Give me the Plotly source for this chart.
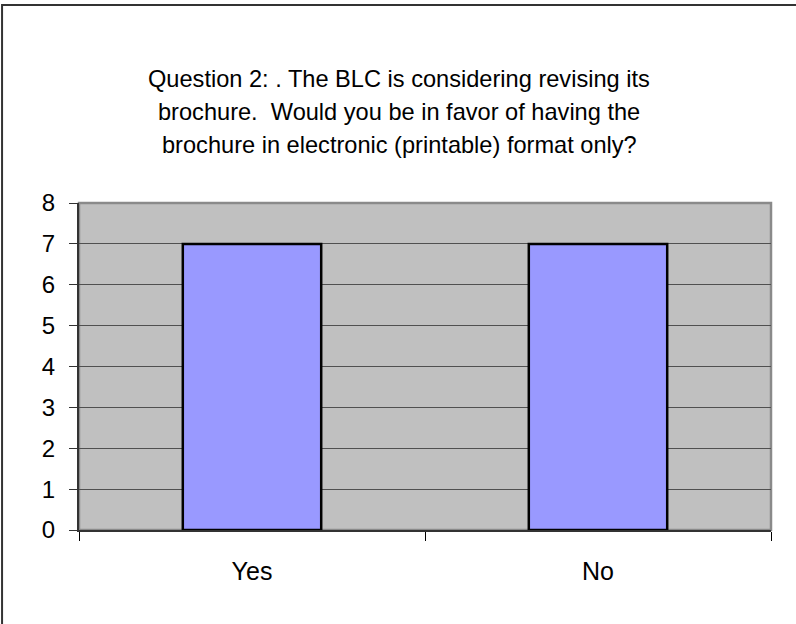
import plotly.graph_objects as go

categories = ["Yes", "No"]
counts = [7, 7]
y_ticks = [0, 1, 2, 3, 4, 5, 6, 7, 8]
title_lines = [
    "Question 2: . The BLC is considering revising its",
    "brochure.  Would you be in favor of having the",
    "brochure in electronic (printable) format only?",
]

W, H = 796, 624
L, R, T, B = 78.5, 25, 202.5, 93.5
pw, ph = W - L - R, H - T - B

def px_x(p):
    return (p - L) / pw

def px_y(p):
    return 1 - (p - T) / ph

fig = go.Figure()
fig.add_trace(go.Bar(
    x=categories, y=counts, width=0.4,
    marker=dict(color="#9999FF", line=dict(color="#000000", width=2.5)),
    hoverinfo="x+y",
))

shapes = [
    # outer chart frame (only top and left visible)
    dict(type="rect", xref="paper", yref="paper",
         x0=px_x(1.5), x1=px_x(W + 20), y0=px_y(H + 20), y1=px_y(4),
         line=dict(color="#333333", width=2), layer="below"),
    # plot-area border (top / right grey)
    dict(type="rect", xref="paper", yref="paper", x0=0, x1=1, y0=0, y1=1,
         line=dict(color="#8A8A8A", width=2.5), layer="below"),
]

annotations = []
for i, line in enumerate(title_lines):
    annotations.append(dict(
        text=line, xref="paper", yref="paper",
        x=px_x(399), y=px_y(78 + 33 * i), xanchor="center", yanchor="middle",
        showarrow=False,
        font=dict(family="Liberation Sans, Arial, sans-serif", size=23.6, color="#000000"),
    ))

fig.update_layout(
    width=W, height=H,
    margin=dict(l=L, r=R, t=T, b=B, pad=0),
    paper_bgcolor="#FFFFFF",
    plot_bgcolor="#C0C0C0",
    showlegend=False,
    shapes=shapes,
    annotations=annotations,
    bargap=0.6,
    font=dict(family="Liberation Sans, Arial, sans-serif", size=24, color="#000000"),
)
fig.update_xaxes(
    type="category", tickson="boundaries", ticks="outside", ticklen=9,
    tickcolor="#000000", tickwidth=1,
    showline=True, linecolor="#333333", linewidth=2,
    showgrid=False, ticklabelstandoff=18,
    tickfont=dict(size=25), range=[-0.5, 1.5],
)
fig.update_yaxes(
    range=[0, 8], tickvals=y_ticks, ticks="outside", ticklen=8,
    tickcolor="#333333", tickwidth=1,
    showline=True, linecolor="#333333", linewidth=2,
    showgrid=True, gridcolor="#505050", gridwidth=1,
    zeroline=False, ticklabelstandoff=9,
    tickfont=dict(size=24),
)

fig.write_html("out.html")
